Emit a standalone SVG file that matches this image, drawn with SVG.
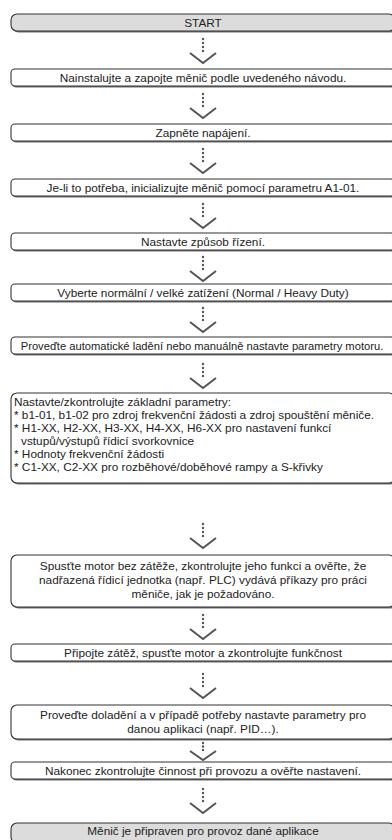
<svg xmlns="http://www.w3.org/2000/svg" width="392" height="840" viewBox="0 0 392 840">
<defs>
<style>
.box{fill:#ffffff;stroke:#333333;stroke-width:1.1}
.term{fill:#dcdcdc;stroke:#333333;stroke-width:1.1}
.sh{fill:#6e6e6e;stroke:none}
.t{font-family:"Liberation Sans",Arial,sans-serif;font-size:11.8px;fill:#222222;text-anchor:middle}
.tl{font-family:"Liberation Sans",Arial,sans-serif;font-size:11.8px;fill:#222222;text-anchor:start}
.dot{fill:#555555}
.chev{fill:none;stroke:#555555;stroke-width:2}
</style>
<g id="arrow">
<circle class="dot" cx="0" cy="0" r="1.2"/>
<circle class="dot" cx="0" cy="4" r="1.2"/>
<circle class="dot" cx="0" cy="8" r="1.2"/>
<circle class="dot" cx="0" cy="12" r="1.2"/>
<polyline class="chev" points="-13,14 0,24 13,14"/>
</g>
<g id="arrowS">
<circle class="dot" cx="0" cy="0" r="1.2"/>
<circle class="dot" cx="0" cy="3.5" r="1.2"/>
<circle class="dot" cx="0" cy="7" r="1.2"/>
<polyline class="chev" points="-13,8 0,17 13,8"/>
</g>
</defs>
<rect width="392" height="840" fill="#ffffff"/>

<g id="connectors">
<use href="#arrow" x="203" y="39"/>
<use href="#arrow" x="203" y="94"/>
<use href="#arrow" x="203" y="149"/>
<use href="#arrow" x="203" y="204"/>
<use href="#arrow" x="203" y="257"/>
<use href="#arrow" x="203" y="308"/>
<use href="#arrow" x="203" y="364"/>
<use href="#arrow" x="203" y="524"/>
<use href="#arrow" x="203" y="615"/>
<use href="#arrow" x="203" y="674"/>
<use href="#arrowS" x="203" y="743"/>
<use href="#arrow" x="203" y="789"/>
</g>

<g id="n1">
<rect class="sh" x="12.5" y="15.5" width="384" height="17" rx="6"/>
<rect class="term" x="11" y="14" width="384" height="17" rx="6"/>
<text class="t" x="203" y="26.5">START</text>
</g>
<g id="n2">
<rect class="sh" x="12.5" y="70.5" width="384" height="17" rx="4"/>
<rect class="box" x="11" y="69" width="384" height="17" rx="4"/>
<text class="t" x="203" y="81.5">Nainstalujte a zapojte měnič podle uvedeného návodu.</text>
</g>
<g id="n3">
<rect class="sh" x="12.5" y="125.5" width="384" height="17" rx="4"/>
<rect class="box" x="11" y="124" width="384" height="17" rx="4"/>
<text class="t" x="203" y="136.5">Zapněte napájení.</text>
</g>
<g id="n4">
<rect class="sh" x="12.5" y="180.5" width="384" height="17" rx="4"/>
<rect class="box" x="11" y="179" width="384" height="17" rx="4"/>
<text class="t" x="203" y="191.5">Je-li to potřeba, inicializujte měnič pomocí parametru A1-01.</text>
</g>
<g id="n5">
<rect class="sh" x="12.5" y="234.5" width="384" height="17" rx="4"/>
<rect class="box" x="11" y="233" width="384" height="17" rx="4"/>
<text class="t" x="203" y="245.5">Nastavte způsob řízení.</text>
</g>
<g id="n6">
<rect class="sh" x="12.5" y="285.5" width="384" height="17" rx="4"/>
<rect class="box" x="11" y="284" width="384" height="17" rx="4"/>
<text class="t" x="203" y="296.5">Vyberte normální / velké zatížení (Normal / Heavy Duty)</text>
</g>
<g id="n7">
<rect class="sh" x="12.5" y="338.5" width="384" height="17" rx="4"/>
<rect class="box" x="11" y="337" width="384" height="17" rx="4"/>
<text class="t" x="202" y="349.5" style="font-size:11.2px">Proveďte automatické ladění nebo manuálně nastavte parametry motoru.</text>
</g>
<g id="n8">
<rect class="sh" x="12.5" y="394.5" width="384" height="90" rx="6"/>
<rect class="box" x="11" y="393" width="384" height="90" rx="6"/>
<text class="tl" x="14" y="406">Nastavte/zkontrolujte základní parametry:</text>
<text class="tl" x="14" y="419">* b1-01, b1-02 pro zdroj frekvenční žádosti a zdroj spouštění měniče.</text>
<text class="tl" x="14" y="432">* H1-XX, H2-XX, H3-XX, H4-XX, H6-XX pro nastavení funkcí</text>
<text class="tl" x="21" y="445">vstupů/výstupů řídicí svorkovnice</text>
<text class="tl" x="14" y="458">* Hodnoty frekvenční žádosti</text>
<text class="tl" x="14" y="471">* C1-XX, C2-XX pro rozběhové/doběhové rampy a S-křivky</text>
</g>
<g id="n9">
<rect class="sh" x="12.5" y="556.5" width="384" height="52" rx="6"/>
<rect class="box" x="11" y="555" width="384" height="52" rx="6"/>
<text class="t" x="203" y="570">Spusťte motor bez zátěže, zkontrolujte jeho funkci a ověřte, že</text>
<text class="t" x="203" y="584">nadřazená řídicí jednotka (např. PLC) vydává příkazy pro práci</text>
<text class="t" x="203" y="598">měniče, jak je požadováno.</text>
</g>
<g id="n10">
<rect class="sh" x="12.5" y="645.5" width="384" height="17" rx="4"/>
<rect class="box" x="11" y="644" width="384" height="17" rx="4"/>
<text class="t" x="203" y="656.5">Připojte zátěž, spusťte motor a zkontrolujte funkčnost</text>
</g>
<g id="n11">
<rect class="sh" x="12.5" y="706.5" width="384" height="34" rx="6"/>
<rect class="box" x="11" y="705" width="384" height="34" rx="6"/>
<text class="t" x="203" y="719">Proveďte doladění a v případě potřeby nastavte parametry pro</text>
<text class="t" x="203" y="733">danou aplikaci (např. PID…).</text>
</g>
<g id="n12">
<rect class="sh" x="12.5" y="763.5" width="384" height="17" rx="4"/>
<rect class="box" x="11" y="762" width="384" height="17" rx="4"/>
<text class="t" x="203" y="774.5">Nakonec zkontrolujte činnost při provozu a ověřte nastavení.</text>
</g>
<g id="n13">
<rect class="sh" x="12.5" y="824.5" width="384" height="20" rx="6"/>
<rect class="term" x="11" y="823" width="384" height="20" rx="6"/>
<text class="t" x="203" y="835">Měnič je připraven pro provoz dané aplikace</text>
</g>
</svg>
